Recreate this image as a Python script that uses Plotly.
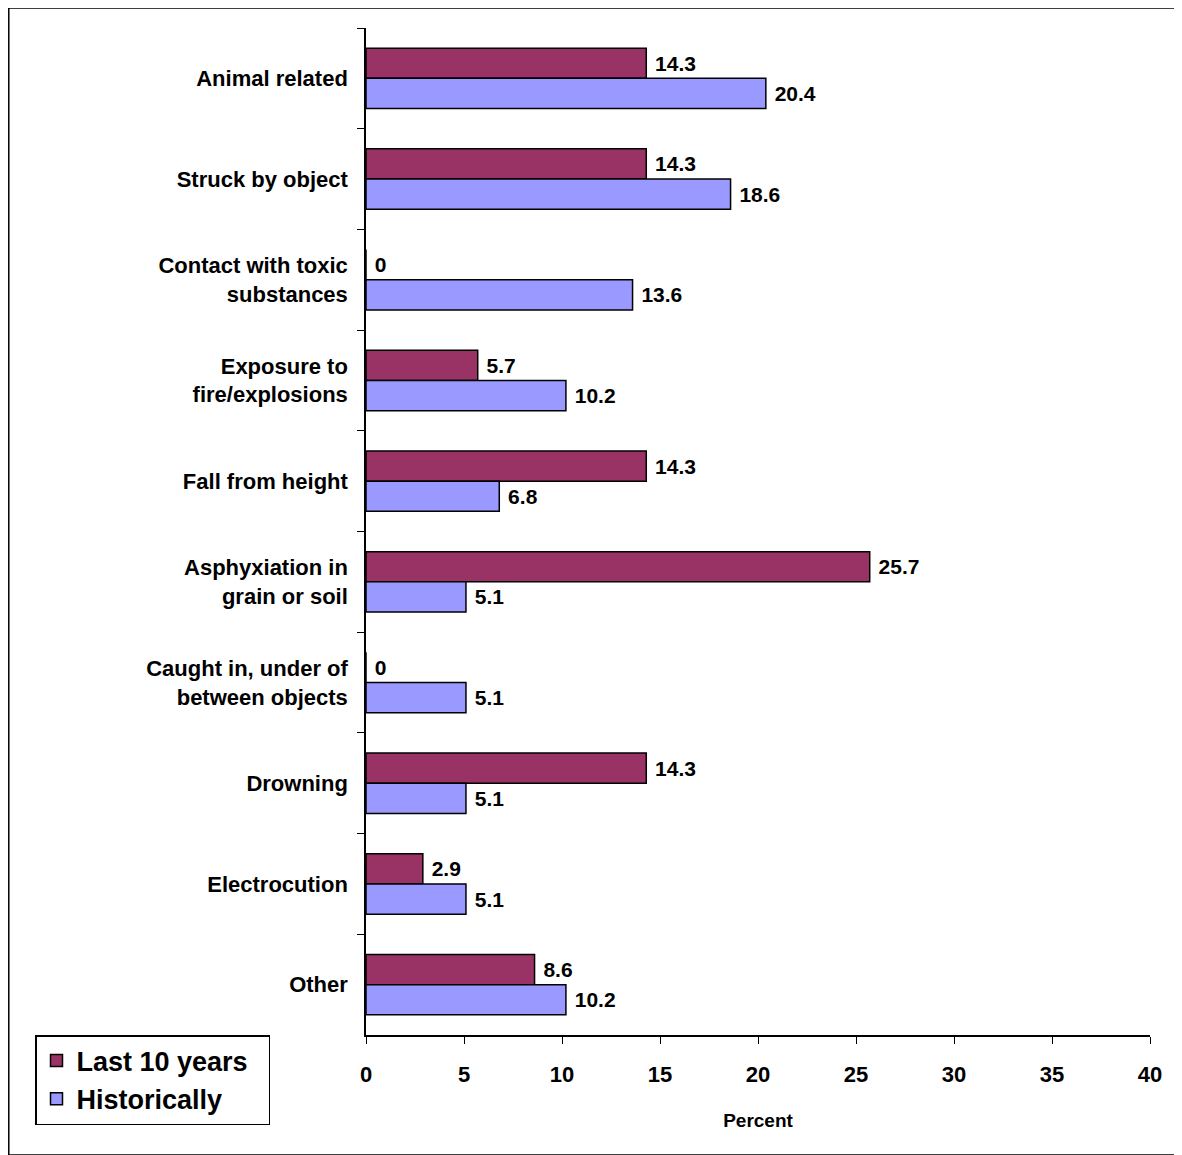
import plotly.graph_objects as go

categories = ["Animal related", "Struck by object", "Contact with toxic<br>substances",
              "Exposure to<br>fire/explosions", "Fall from height", "Asphyxiation in<br>grain or soil",
              "Caught in, under of<br>between objects", "Drowning", "Electrocution", "Other"]
last_10_years = [14.3, 14.3, 0, 5.7, 14.3, 25.7, 0, 14.3, 2.9, 8.6]
historically = [20.4, 18.6, 13.6, 10.2, 6.8, 5.1, 5.1, 5.1, 5.1, 10.2]

font = dict(family="Arial, Liberation Sans", size=21, color="black")

W, H = 1174, 1147
L, R, T, B = 358, 32, 20, 120
pw, ph = W - L - R, H - T - B

fig = go.Figure()
fig.add_bar(y=categories, x=last_10_years, orientation="h", name="<b>Last 10 years</b>  ",
            marker=dict(color="#993366", line=dict(color="black", width=1.5)),
            text=[f"<b> {v:g}</b>" for v in last_10_years], textposition="outside",
            textfont=font, cliponaxis=False)
fig.add_bar(y=categories, x=historically, orientation="h", name="<b>Historically</b>",
            marker=dict(color="#9999FF", line=dict(color="black", width=1.5)),
            text=[f"<b> {v:g}</b>" for v in historically], textposition="outside",
            textfont=font, cliponaxis=False)

fig.update_layout(
    width=W, height=H, barmode="group", bargap=0.4, bargroupgap=0,
    margin=dict(l=L, r=R, t=T, b=B),
    plot_bgcolor="white", paper_bgcolor="white", font=font,
    legend=dict(x=(27 - L) / pw, y=0, xanchor="left", yanchor="top",
                bordercolor="black", borderwidth=1.5, font=dict(size=27),
                itemwidth=30, tracegroupgap=0),
    shapes=[dict(type="rect", xref="paper", yref="paper",
                 x0=-L / pw + 0.001, x1=1 + (R - 1) / pw, y0=-B / ph, y1=1 + T / ph,
                 line=dict(color="black", width=1.5))],
)
fig.update_xaxes(range=[0, 40], dtick=5, ticks="outside", ticklen=7, tickcolor="black",
                 showline=True, linecolor="black", linewidth=1.5, showgrid=False, zeroline=False,
                 tickfont=dict(size=22), tickprefix="<b>", ticksuffix="</b>", ticklabelstandoff=12,
                 title=dict(text="<b>Percent</b>", font=dict(size=19), standoff=28))
fig.update_yaxes(autorange="reversed", tickson="boundaries", ticks="outside", ticklen=7,
                 tickcolor="black", showline=True, linecolor="black", linewidth=1.5,
                 showgrid=False, tickprefix="<b>", ticksuffix="</b>", ticklabelstandoff=12,
                 tickfont=dict(size=22))

fig.write_html("out.html")
